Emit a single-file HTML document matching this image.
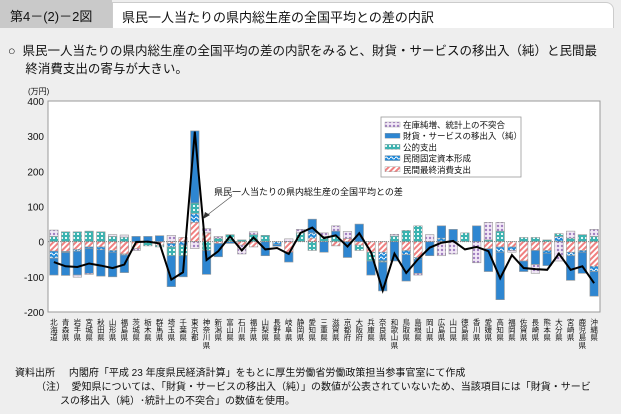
<!DOCTYPE html>
<html><head><meta charset="utf-8">
<style>
body{margin:0;background:#eeeeee;font-family:"Liberation Sans","Noto Sans CJK JP",sans-serif;}
#wrap{position:relative;width:621px;height:414px;overflow:hidden;background:#eeeeee;}
.t{position:absolute;white-space:nowrap;color:#111;}
</style></head><body>
<div id="wrap">
<div style="position:absolute;left:0;top:0;width:112px;height:28px;background:#c9c9c9;"></div>
<div class="t" style="left:10px;top:6px;font-size:13px;">第4－(2)－2図</div>
<div style="position:absolute;left:112px;top:2px;width:500px;height:25px;background:#fff;border-top-right-radius:8px;border:1px solid #ccc;border-bottom:none;"></div>
<div class="t" style="left:122px;top:7px;font-size:13px;">県民一人当たりの県内総生産の全国平均との差の内訳</div>
<div class="t" style="left:8px;top:42px;font-size:12.5px;line-height:18px;">○&nbsp;&nbsp;県民一人当たりの県内総生産の全国平均の差の内訳をみると、財貨・サービスの移出入（純）と民間最<br>&nbsp;&nbsp;&nbsp;&nbsp;&nbsp;終消費支出の寄与が大きい。</div>
<svg id="chart" width="621" height="414" style="position:absolute;left:0;top:0;">
<defs>
<pattern id="pRed" width="4" height="4" patternUnits="userSpaceOnUse" patternTransform="rotate(45)"><rect width="4" height="4" fill="#fff"/><rect width="2" height="4" fill="#f08080"/></pattern>
<pattern id="pTeal" width="4" height="4" patternUnits="userSpaceOnUse"><rect width="4" height="4" fill="#3bb3b0"/><rect x="1" y="1" width="2" height="2" fill="#e8f8f8"/></pattern>
<pattern id="pInv" width="5" height="4" patternUnits="userSpaceOnUse"><rect width="5" height="4" fill="#1e88d8"/><path d="M0 2 Q1.25 0 2.5 2 T5 2" stroke="#fff" stroke-width="1" fill="none"/></pattern>
<pattern id="pPur" width="4" height="4" patternUnits="userSpaceOnUse"><rect width="4" height="4" fill="#f2e8f6"/><circle cx="2" cy="2" r="1.2" fill="#a07ec0"/></pattern>
</defs>
<g id="plot"></g>
</svg>
<div class="t" style="left:15px;top:364px;font-size:10px;">資料出所&nbsp;&nbsp;&nbsp;&nbsp;&nbsp;内閣府「平成 23 年度県民経済計算」をもとに厚生労働省労働政策担当参事官室にて作成</div>
<div class="t" style="left:36px;top:378px;font-size:10px;">（注）&nbsp;&nbsp;愛知県については、「財貨・サービスの移出入（純）」の数値が公表されていないため、当該項目には「財貨・サービ</div>
<div class="t" style="left:60px;top:392px;font-size:10px;">スの移出入（純）･統計上の不突合」の数値を使用。</div>
</div>
<script>
const prefs=["北海道","青森県","岩手県","宮城県","秋田県","山形県","福島県","茨城県","栃木県","群馬県","埼玉県","千葉県","東京都","神奈川県","新潟県","富山県","石川県","福井県","山梨県","長野県","岐阜県","静岡県","愛知県","三重県","滋賀県","京都府","大阪府","兵庫県","奈良県","和歌山県","鳥取県","島根県","岡山県","広島県","山口県","徳島県","香川県","愛媛県","高知県","福岡県","佐賀県","長崎県","熊本県","大分県","宮崎県","鹿児島県","沖縄県"];
const consumption=[-27,-28,-22,-15,-15,-25,-35,-20,0,-10,-5,12,55,25,-5,0,-10,-15,0,0,-30,0,10,0,-12,9,-10,-30,-30,0,-25,-45,0,0,0,0,0,-20,-15,-15,-55,-25,-25,0,-30,-25,-70];
const investment=[-20,-3,-5,-5,-8,-5,-3,0,0,0,-10,-10,25,0,0,0,0,0,0,-8,0,0,15,0,0,0,0,0,-25,0,-12,-5,0,10,0,0,0,0,-15,-10,0,0,-8,15,-10,-5,-15];
const publicSpending=[15,28,28,30,28,15,13,0,-12,-5,-25,-30,30,-25,10,20,5,20,18,0,0,25,-25,15,15,0,-15,-25,-3,16,32,45,0,0,0,25,0,5,30,0,12,12,5,8,10,20,15];
const netExports=[-48,-65,-68,-70,-75,-70,-50,15,15,17,-88,-60,205,-68,-38,-5,0,0,-40,-5,-28,0,39,-30,15,-45,50,-40,-82,-55,-75,-40,-40,35,35,0,45,-65,-135,0,-30,-40,-35,0,-70,-60,-70];
const otherItems=[18,0,-6,-3,0,5,6,-5,0,0,18,0,-20,12,5,0,-25,8,0,0,8,10,0,10,15,20,0,0,0,5,0,-5,20,-40,-35,0,-60,50,25,-5,0,-25,0,-55,20,0,20];
const gdpGap=[-58,-70,-72,-62,-68,-75,-65,-1,0,-5,-108,-87,313,-52,-27,15,-25,12,-22,-18,-35,25,40,10,18,-14,24,-30,-139,-34,-89,-50,-17,-3,2,-22,-15,-27,-104,-38,-75,-78,-80,-34,-80,-70,-118];
const yTicks=[400,300,200,100,0,-100,-200];
const seriesNames=["民間最終消費支出","民間固定資本形成","公的支出","財貨・サービスの移出入（純）","在庫純増、統計上の不突合"];

const NS="http://www.w3.org/2000/svg";
const plot=document.getElementById('plot');
const X0=48,X1=600,Ytop=101,Ybot=312,VMAX=400,VMIN=-200;
const slot=(X1-X0)/prefs.length;
const yS=v=>Ytop+(VMAX-v)/(VMAX-VMIN)*(Ybot-Ytop);
const xS=i=>X0+slot*(i+0.5);
function mk(tag,attrs,parent){const e=document.createElementNS(NS,tag);for(const k in attrs)e.setAttribute(k,attrs[k]);(parent||plot).appendChild(e);return e;}

const bg=mk('rect',{x:X0,y:Ytop,width:X1-X0,height:Ybot-Ytop,fill:'#fff',stroke:'#999','stroke-width':1});


const ut=mk('text',{x:28,y:94,'font-size':8,fill:'#111'});ut.textContent='(万円)';


yTicks.forEach(v=>{
  const t=mk('text',{x:44,y:yS(v)+4,'font-size':10,'text-anchor':'end',fill:'#111'});t.textContent=v;
  
  
});
const series=[consumption,investment,publicSpending,netExports,otherItems];
const fills=['url(#pRed)','url(#pInv)','url(#pTeal)','#2e86d1','url(#pPur)'];
const bw=8.5;
prefs.forEach((p,i)=>{
  let pos=0,neg=0;
  series.forEach((s,k)=>{
    const v=s[i];if(!v)return;
    let a,b;
    if(v>0){a=pos;b=pos+v;pos=b;}else{a=neg;b=neg+v;neg=b;}
    const r=mk('rect',{x:xS(i)-bw/2,y:Math.min(yS(a),yS(b)),width:bw,height:Math.abs(yS(a)-yS(b)),fill:fills[k],stroke:'#999','stroke-width':0.6});
    
    
  });
  p.split('').forEach((c,j)=>{
    const t=mk('text',{x:xS(i),y:325+j*7.6,'font-size':7.5,'text-anchor':'middle',fill:'#111'});t.textContent=c;
    
    
  });
});
const zl=mk('line',{x1:X0,x2:X1,y1:yS(0),y2:yS(0),stroke:'#777','stroke-width':0.8,'stroke-dasharray':'1,1'});


const line=mk('polyline',{points:gdpGap.map((v,i)=>xS(i)+','+yS(v)).join(' '),fill:'none',stroke:'#000','stroke-width':2});


const al=mk('line',{x1:232,y1:196,x2:206,y2:216,stroke:'#555','stroke-width':0.7});


const ah=mk('path',{d:'M203 219 L205 212 L210 215 Z',fill:'#333'});


const at=mk('text',{x:214,y:195,'font-size':9,fill:'#111'});at.textContent='県民一人当たりの県内総生産の全国平均との差';


const lg=mk('rect',{x:381,y:117,width:140,height:60,fill:'#fff',stroke:'#999','stroke-width':0.8});


[4,3,2,1,0].forEach((k,j)=>{
  const y=123+j*11.2;
  const sw=mk('rect',{x:385,y:y-1,width:15,height:5,fill:fills[k],stroke:'#999','stroke-width':0.4});
  
  
  const t=mk('text',{x:403,y:y+5,'font-size':8.5,fill:'#111'});t.textContent=seriesNames[k];
  
  
});
</script>
</body></html>
